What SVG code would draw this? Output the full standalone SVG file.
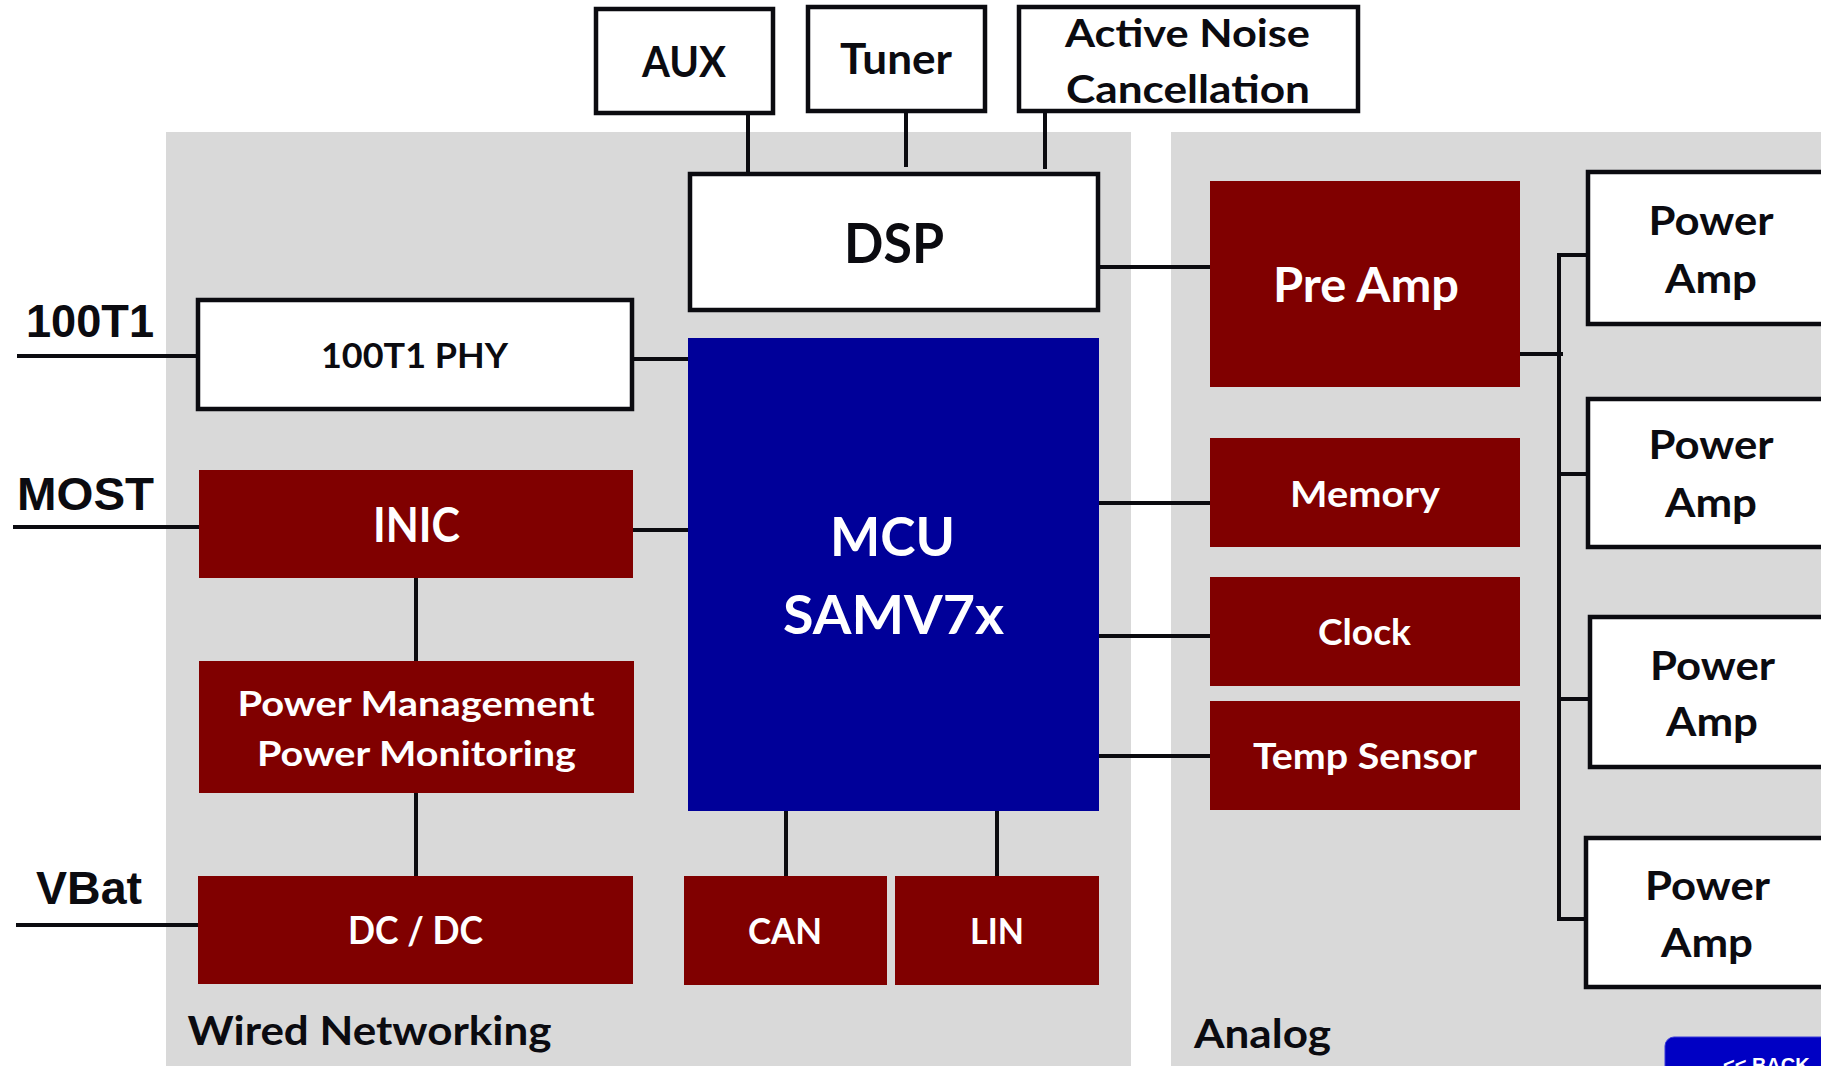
<svg xmlns="http://www.w3.org/2000/svg" width="1821" height="1066" viewBox="0 0 1821 1066">
<style>
.panel{fill:#d9d9d9}
.wbox{fill:#ffffff;stroke:#0b0b10;stroke-width:4.5}
.rbox{fill:#800000}
.bbox{fill:#000099}
.ln{stroke:#0b0b10;stroke-width:4;fill:none}
.t{font-family:Lato,"Noto Sans","Open Sans",sans-serif;font-weight:700}
.a{font-family:"Liberation Sans",Arial,sans-serif;font-weight:700;font-size:46px;fill:#0b0b10}
.k{fill:#0b0b10}
.w{fill:#ffffff}
</style>
<rect width="1821" height="1066" fill="#ffffff"/>
<g id="panel-wired">
<rect class="panel" x="166" y="132" width="965" height="934"/>
<text class="t k" x="187.5" y="1045" font-size="41" textLength="364" lengthAdjust="spacingAndGlyphs">Wired Networking</text>
</g>
<g id="panel-analog">
<rect class="panel" x="1171" y="132" width="650" height="934"/>
<text class="t k" x="1194" y="1048" font-size="41" textLength="137" lengthAdjust="spacingAndGlyphs">Analog</text>
</g>
<g id="connectors">
<line class="ln" x1="17" y1="356" x2="198" y2="356"/>
<line class="ln" x1="13" y1="527" x2="199" y2="527"/>
<line class="ln" x1="16" y1="925" x2="198" y2="925"/>
<line class="ln" x1="632" y1="359" x2="688" y2="359"/>
<line class="ln" x1="633" y1="530" x2="690" y2="530"/>
<line class="ln" x1="416" y1="576" x2="416" y2="661"/>
<line class="ln" x1="416" y1="793" x2="416" y2="876"/>
<line class="ln" x1="786" y1="811" x2="786" y2="876"/>
<line class="ln" x1="997" y1="811" x2="997" y2="876"/>
<line class="ln" x1="748" y1="113" x2="748" y2="174"/>
<line class="ln" x1="906" y1="111" x2="906" y2="167"/>
<line class="ln" x1="1045" y1="111" x2="1045" y2="169"/>
<line class="ln" x1="1100" y1="267" x2="1212" y2="267"/>
<line class="ln" x1="1099" y1="503" x2="1210" y2="503"/>
<line class="ln" x1="1099" y1="636" x2="1210" y2="636"/>
<line class="ln" x1="1099" y1="756" x2="1210" y2="756"/>
<line class="ln" x1="1520" y1="354" x2="1563" y2="354"/>
<line class="ln" x1="1559" y1="253" x2="1559" y2="921"/>
<line class="ln" x1="1557" y1="255" x2="1588" y2="255"/>
<line class="ln" x1="1559" y1="474" x2="1588" y2="474"/>
<line class="ln" x1="1559" y1="699" x2="1590" y2="699"/>
<line class="ln" x1="1557" y1="919" x2="1586" y2="919"/>
</g>
<g id="aux">
<rect class="wbox" x="596" y="9" width="177" height="104"/>
<text class="t k" x="642" y="77" font-size="42" textLength="84" lengthAdjust="spacingAndGlyphs">AUX</text>
</g>
<g id="tuner">
<rect class="wbox" x="808" y="7" width="177" height="104"/>
<text class="t k" x="840" y="74" font-size="42" textLength="112" lengthAdjust="spacingAndGlyphs">Tuner</text>
</g>
<g id="anc">
<rect class="wbox" x="1019" y="7" width="339" height="104"/>
<text class="t k" x="1065" y="47" font-size="39" textLength="245" lengthAdjust="spacingAndGlyphs">Active Noise</text>
<text class="t k" x="1066" y="103" font-size="39" textLength="244" lengthAdjust="spacingAndGlyphs">Cancellation</text>
</g>
<g id="dsp">
<rect class="wbox" x="690" y="174" width="408" height="136"/>
<text class="t k" x="844" y="263" font-size="56" textLength="100" lengthAdjust="spacingAndGlyphs">DSP</text>
</g>
<g id="phy">
<rect class="wbox" x="198" y="300" width="434" height="109"/>
<text class="t k" x="321" y="368" font-size="35" textLength="187" lengthAdjust="spacingAndGlyphs">100T1 PHY</text>
</g>
<g id="mcu">
<rect class="bbox" x="688" y="338" width="411" height="473"/>
<text class="t w" x="830" y="556" font-size="54" textLength="125" lengthAdjust="spacingAndGlyphs">MCU</text>
<text class="t w" x="783" y="634" font-size="54" textLength="221" lengthAdjust="spacingAndGlyphs">SAMV7x</text>
</g>
<g id="inic">
<rect class="rbox" x="199" y="470" width="434" height="108"/>
<text class="t w" x="373" y="542" font-size="47" textLength="87" lengthAdjust="spacingAndGlyphs">INIC</text>
</g>
<g id="power-management">
<rect class="rbox" x="199" y="661" width="435" height="132"/>
<text class="t w" x="237.5" y="715.5" font-size="35" textLength="357" lengthAdjust="spacingAndGlyphs">Power Management</text>
<text class="t w" x="257" y="766" font-size="35" textLength="319" lengthAdjust="spacingAndGlyphs">Power Monitoring</text>
</g>
<g id="dcdc">
<rect class="rbox" x="198" y="876" width="435" height="108"/>
<text class="t w" x="348" y="943.5" font-size="38" textLength="135" lengthAdjust="spacingAndGlyphs">DC / DC</text>
</g>
<g id="can">
<rect class="rbox" x="684" y="876" width="203" height="109"/>
<text class="t w" x="748" y="944" font-size="36" textLength="74" lengthAdjust="spacingAndGlyphs">CAN</text>
</g>
<g id="lin">
<rect class="rbox" x="895" y="876" width="204" height="109"/>
<text class="t w" x="970" y="944" font-size="36" textLength="54" lengthAdjust="spacingAndGlyphs">LIN</text>
</g>
<g id="preamp">
<rect class="rbox" x="1210" y="181" width="310" height="206"/>
<text class="t w" x="1273" y="302" font-size="47" textLength="186" lengthAdjust="spacingAndGlyphs">Pre Amp</text>
</g>
<g id="memory">
<rect class="rbox" x="1210" y="438" width="310" height="109"/>
<text class="t w" x="1290" y="507" font-size="37" textLength="150" lengthAdjust="spacingAndGlyphs">Memory</text>
</g>
<g id="clock">
<rect class="rbox" x="1210" y="577" width="310" height="109"/>
<text class="t w" x="1318" y="645" font-size="37" textLength="93" lengthAdjust="spacingAndGlyphs">Clock</text>
</g>
<g id="temp-sensor">
<rect class="rbox" x="1210" y="701" width="310" height="109"/>
<text class="t w" x="1253" y="769" font-size="37" textLength="224" lengthAdjust="spacingAndGlyphs">Temp Sensor</text>
</g>
<g id="power-amp-1">
<rect class="wbox" x="1588" y="172" width="260" height="152"/>
<text class="t k" x="1648.5" y="235" font-size="40" textLength="125" lengthAdjust="spacingAndGlyphs">Power</text>
<text class="t k" x="1665" y="293" font-size="40" textLength="92" lengthAdjust="spacingAndGlyphs">Amp</text>
</g>
<g id="power-amp-2">
<rect class="wbox" x="1588" y="399" width="260" height="148"/>
<text class="t k" x="1648.5" y="459" font-size="40" textLength="125" lengthAdjust="spacingAndGlyphs">Power</text>
<text class="t k" x="1665" y="517" font-size="40" textLength="92" lengthAdjust="spacingAndGlyphs">Amp</text>
</g>
<g id="power-amp-3">
<rect class="wbox" x="1590" y="617" width="260" height="150"/>
<text class="t k" x="1650" y="680" font-size="40" textLength="125" lengthAdjust="spacingAndGlyphs">Power</text>
<text class="t k" x="1666" y="736" font-size="40" textLength="92" lengthAdjust="spacingAndGlyphs">Amp</text>
</g>
<g id="power-amp-4">
<rect class="wbox" x="1586" y="838" width="260" height="149"/>
<text class="t k" x="1645" y="900" font-size="40" textLength="125" lengthAdjust="spacingAndGlyphs">Power</text>
<text class="t k" x="1661" y="957" font-size="40" textLength="92" lengthAdjust="spacingAndGlyphs">Amp</text>
</g>
<g id="external-labels">
<text class="a" x="26" y="337" textLength="128" lengthAdjust="spacingAndGlyphs">100T1</text>
<text class="a" x="17" y="510" textLength="137" lengthAdjust="spacingAndGlyphs">MOST</text>
<text class="a" x="36" y="903.5" textLength="106" lengthAdjust="spacingAndGlyphs">VBat</text>
</g>
<g id="back-button">
<rect x="1665" y="1037" width="200" height="60" rx="9" fill="#0000c4" stroke="#3a3ad8" stroke-width="1"/>
<text x="1723" y="1072" font-family="'Liberation Sans',Arial,sans-serif" font-weight="700" font-size="20" fill="#ffffff">&lt;&lt; BACK</text>
</g>
</svg>
